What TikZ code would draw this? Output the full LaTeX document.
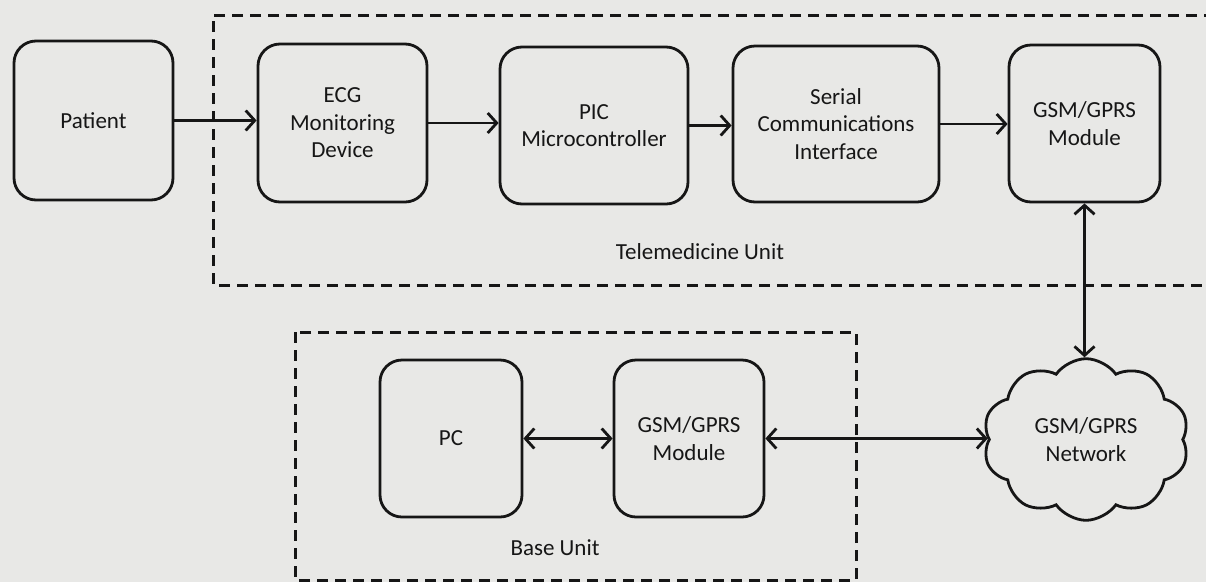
\documentclass[tikz,border=0pt]{standalone}
\usepackage{fontspec}
\setmainfont{Carlito}
\usetikzlibrary{arrows.meta,shapes.symbols}
\definecolor{paper}{RGB}{232,232,230}
\definecolor{ink}{RGB}{22,22,22}
\begin{document}
\begin{tikzpicture}[x=1pt,y=-1pt,
  blk/.style={draw=ink, line width=2.8pt, rounded corners=22pt, align=center,
    inner sep=0pt, font=\fontsize{23}{27.5}\selectfont, text=ink},
  tip/.tip={Straight Barb[length=9pt,width=20pt,line width=2.8pt]},
  flow/.style={draw=ink, line width=2.8pt, -tip},
  both/.style={draw=ink, line width=2.8pt, tip-tip},
  frame/.style={draw=ink, line width=3pt, dash pattern=on 11pt off 7pt},
  lbl/.style={font=\fontsize{23}{27.5}\selectfont, text=ink, inner sep=0pt}]
% page
\fill[paper] (0,0) rectangle (1206,582);
\useasboundingbox (0,0) rectangle (1206,582);

% unit frames
\draw[frame] (1215,15) -- (213,15) -- (213,285) -- (1215,285);
\draw[frame] (295,332) rectangle (856,580);
\node[lbl] (telelbl) at (700,252) {Telemedicine Unit};
\node[lbl] (baselbl) at (555,548) {Base Unit};

% telemedicine chain
\node[blk, minimum width=159pt, minimum height=159pt] (patient) at (93.5,120.5) {Patient};
\node[blk, minimum width=169pt, minimum height=158pt] (ecg) at (342.5,123) {ECG\\Monitoring\\Device};
\node[blk, minimum width=188pt, minimum height=157pt] (pic) at (594,125.5) {PIC\\Microcontroller};
\node[blk, minimum width=206pt, minimum height=156pt] (sci) at (836,124) {Serial\\Communications\\Interface};
\node[blk, minimum width=151pt, minimum height=157pt] (gsmt) at (1084.5,123.5) {GSM/GPRS\\Module};

% base unit
\node[blk, minimum width=142pt, minimum height=157pt] (pc) at (451,438.5) {PC};
\node[blk, minimum width=150pt, minimum height=157pt] (gsmb) at (689,438.5) {GSM/GPRS\\Module};

% network
\node[draw=ink, line width=2.8pt, cloud, cloud puffs=10, cloud puff arc=110,
  minimum width=206pt, minimum height=135pt, inner sep=0pt, align=center,
  font=\fontsize{23}{27.5}\selectfont, text=ink] (net) at (1086,439.5) {GSM/GPRS\\Network};

% connectors
\draw[flow] (patient.east) -- (patient.east -| ecg.west);
\draw[flow] (ecg.east) -- (ecg.east -| pic.west);
\draw[flow] (pic.east) -- (pic.east -| sci.west);
\draw[flow] (sci.east) -- (sci.east -| gsmt.west);
\draw[both] (gsmt.south) -- (gsmt.south |- net.north);
\draw[both] (pc.east) -- (gsmb.west);
\draw[both] (gsmb.east) -- (gsmb.east -| net.west);
\end{tikzpicture}
\end{document}
